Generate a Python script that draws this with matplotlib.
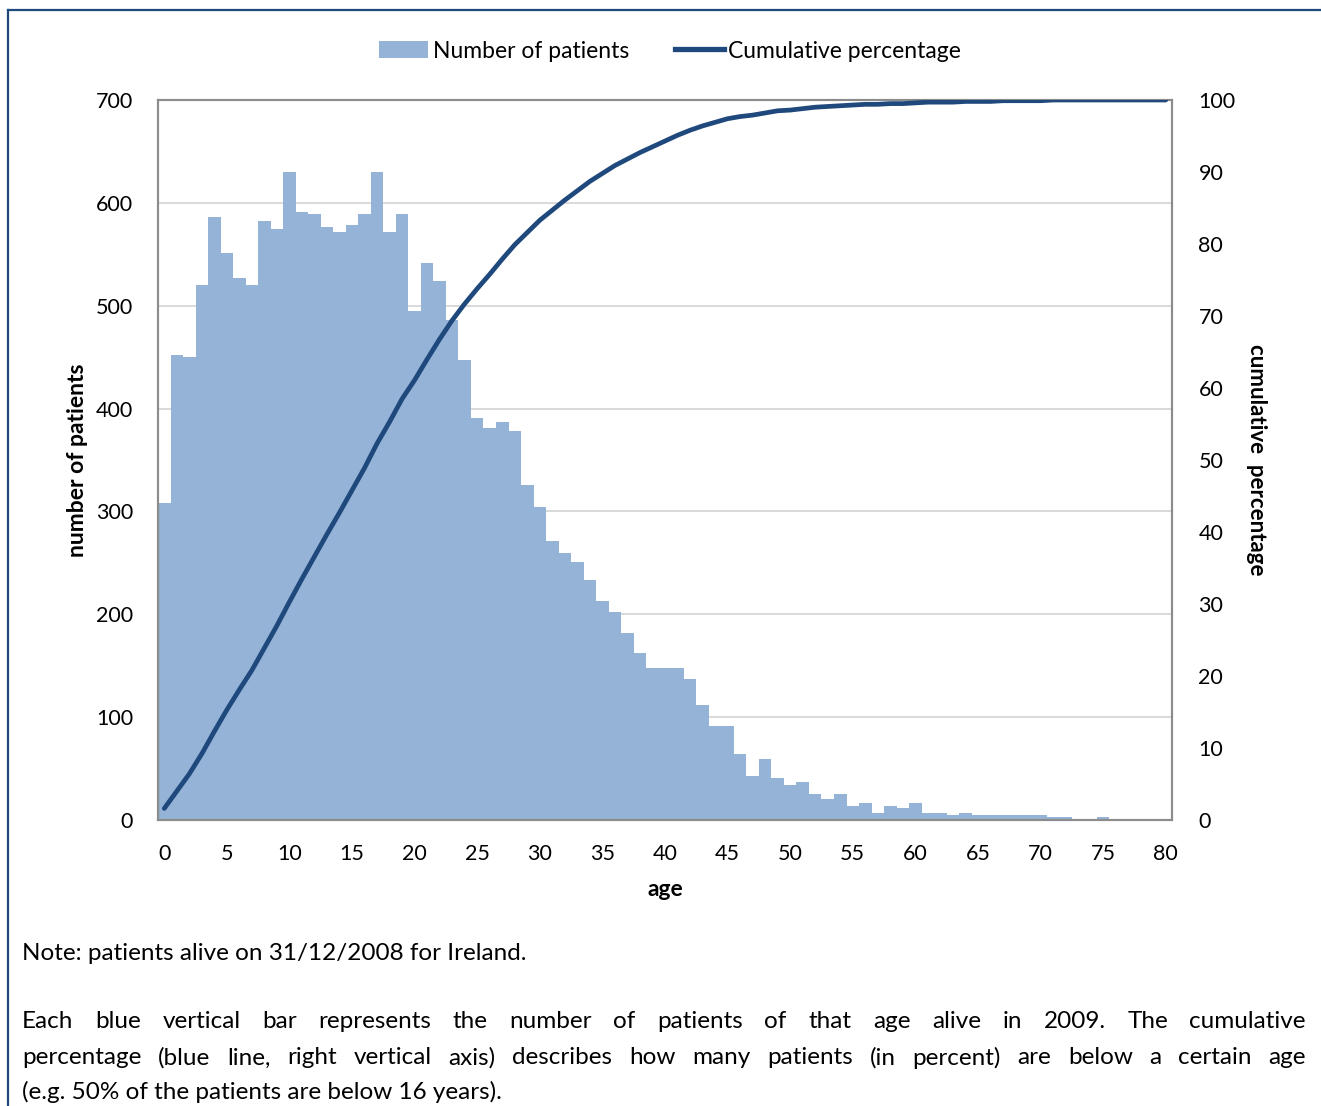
import numpy as np
import matplotlib
matplotlib.use('Agg')
import matplotlib.pyplot as plt
from matplotlib.patches import Patch
from matplotlib.lines import Line2D

# data
ages = list(range(0, 81))
patients = [308, 452, 450, 520, 586, 551, 527, 520, 582, 575,
            630, 591, 589, 577, 572, 578, 589, 630, 572, 589,
            495, 542, 524, 486, 447, 391, 381, 387, 378, 326,
            304, 271, 260, 251, 233, 213, 202, 182, 162, 148,
            148, 148, 137, 112, 91, 91, 64, 43, 59, 41,
            34, 37, 25, 20, 25, 14, 17, 7, 14, 12,
            17, 7, 7, 5, 7, 5, 5, 5, 5, 5,
            5, 3, 3, 0, 1, 3, 1, 1, 0, 1, 0]
cum_pct = [1.6, 4.0, 6.4, 9.2, 12.3, 15.3, 18.1, 20.8, 23.9, 27.0,
           30.3, 33.5, 36.6, 39.7, 42.7, 45.8, 48.9, 52.3, 55.3, 58.5,
           61.1, 64.0, 66.8, 69.4, 71.7, 73.8, 75.8, 77.9, 79.9, 81.6,
           83.3, 84.7, 86.1, 87.4, 88.7, 89.8, 90.9, 91.8, 92.7, 93.5,
           94.3, 95.1, 95.8, 96.4, 96.9, 97.4, 97.7, 97.9, 98.2, 98.5,
           98.6, 98.8, 99.0, 99.1, 99.2, 99.3, 99.4, 99.4, 99.5, 99.5,
           99.6, 99.7, 99.7, 99.7, 99.8, 99.8, 99.8, 99.9, 99.9, 99.9,
           99.9, 100.0, 100.0, 100.0, 100.0, 100.0, 100.0, 100.0, 100.0, 100.0, 100.0]
x_ticks = list(range(0, 81, 5))
left_ticks = list(range(0, 701, 100))
right_ticks = list(range(0, 101, 10))

note = 'Note: patients alive on 31/12/2008 for Ireland.'
para = ['Each blue vertical bar represents the number of patients of that age alive in 2009. The cumulative',
        'percentage (blue line, right vertical axis) describes how many patients (in percent) are below a certain age',
        '(e.g. 50% of the patients are below 16 years).']

bar_color = '#95B3D7'
line_color = '#1F497D'
spine_color = '#8C8C8C'

plt.rcParams['font.family'] = ['Lato', 'DejaVu Sans']
W, H = 1321, 1106
fig = plt.figure(figsize=(W / 100, H / 100), dpi=100)

def fx(px):
    return px / W

def fy(py):
    return 1 - py / H

ax = fig.add_axes([fx(158), fy(820), fx(1172) - fx(158), fy(100) - fy(820)])
ax.bar(ages, patients, width=1.0, color=bar_color, linewidth=0, zorder=2)
ax.set_xlim(-0.5, 80.5)
ax.set_ylim(0, 700)
ax.set_yticks(left_ticks)
ax.set_xticks(x_ticks)
ax.grid(axis='y', color='#D9D9D9', linewidth=1.4)
ax.set_axisbelow(True)
ax.tick_params(length=0, labelsize=15.5, pad=18)
ax.tick_params(axis='x', pad=17)

ax2 = ax.twinx()
ax2.plot(ages, cum_pct, color=line_color, linewidth=3.4, solid_capstyle='round', zorder=3)
ax2.set_ylim(0, 100)
ax2.set_yticks(right_ticks)
ax2.tick_params(length=0, labelsize=15.5, pad=19)

for a in (ax, ax2):
    for s in a.spines.values():
        s.set_color(spine_color)
        s.set_linewidth(1.5)

fig.text(fx(77), fy(460), 'number of patients', rotation=90, ha='center', va='center',
         fontsize=16.5, fontweight='bold')
fig.text(fx(1256), fy(460), 'cumulative  percentage', rotation=270, ha='center', va='center',
         fontsize=16, fontweight='bold')
fig.text(fx(665), fy(890), 'age', ha='center', va='center', fontsize=16.5, fontweight='bold')

handles = [Patch(facecolor=bar_color, edgecolor='none'),
           Line2D([0], [0], color=line_color, linewidth=3.8)]
fig.legend(handles, ['Number of patients', 'Cumulative percentage'], loc='center',
           bbox_to_anchor=(fx(670), fy(51)), ncol=2, frameon=False, fontsize=16.5,
           handlelength=2.15, handleheight=0.72, handletextpad=0.2, columnspacing=2.0)

# outer frame (top and left)
fig.add_artist(Line2D([fx(8), 1], [fy(10), fy(10)], color=line_color, linewidth=1.6))
fig.add_artist(Line2D([fx(8), fx(8)], [fy(10), 0], color=line_color, linewidth=1.6))

body_size = 17.5
fig.text(fx(22), fy(953), note, ha='left', va='center', fontsize=body_size)

# justified paragraph, last line left as is
renderer = fig.canvas.get_renderer()
line_y = [1022, 1058, 1092]
for i, line in enumerate(para):
    if i == len(para) - 1:
        fig.text(fx(22), fy(line_y[i]), line, ha='left', va='center', fontsize=body_size)
        continue
    words = line.split(' ')
    texts = [fig.text(0, fy(line_y[i]), w, ha='left', va='center', fontsize=body_size) for w in words]
    widths = [t.get_window_extent(renderer).width for t in texts]
    gap = (1306 - 22 - sum(widths)) / (len(words) - 1)
    xpos = 22
    for t, w in zip(texts, widths):
        t.set_x(fx(xpos))
        xpos += w + gap

fig.savefig('out.png', dpi=100)
